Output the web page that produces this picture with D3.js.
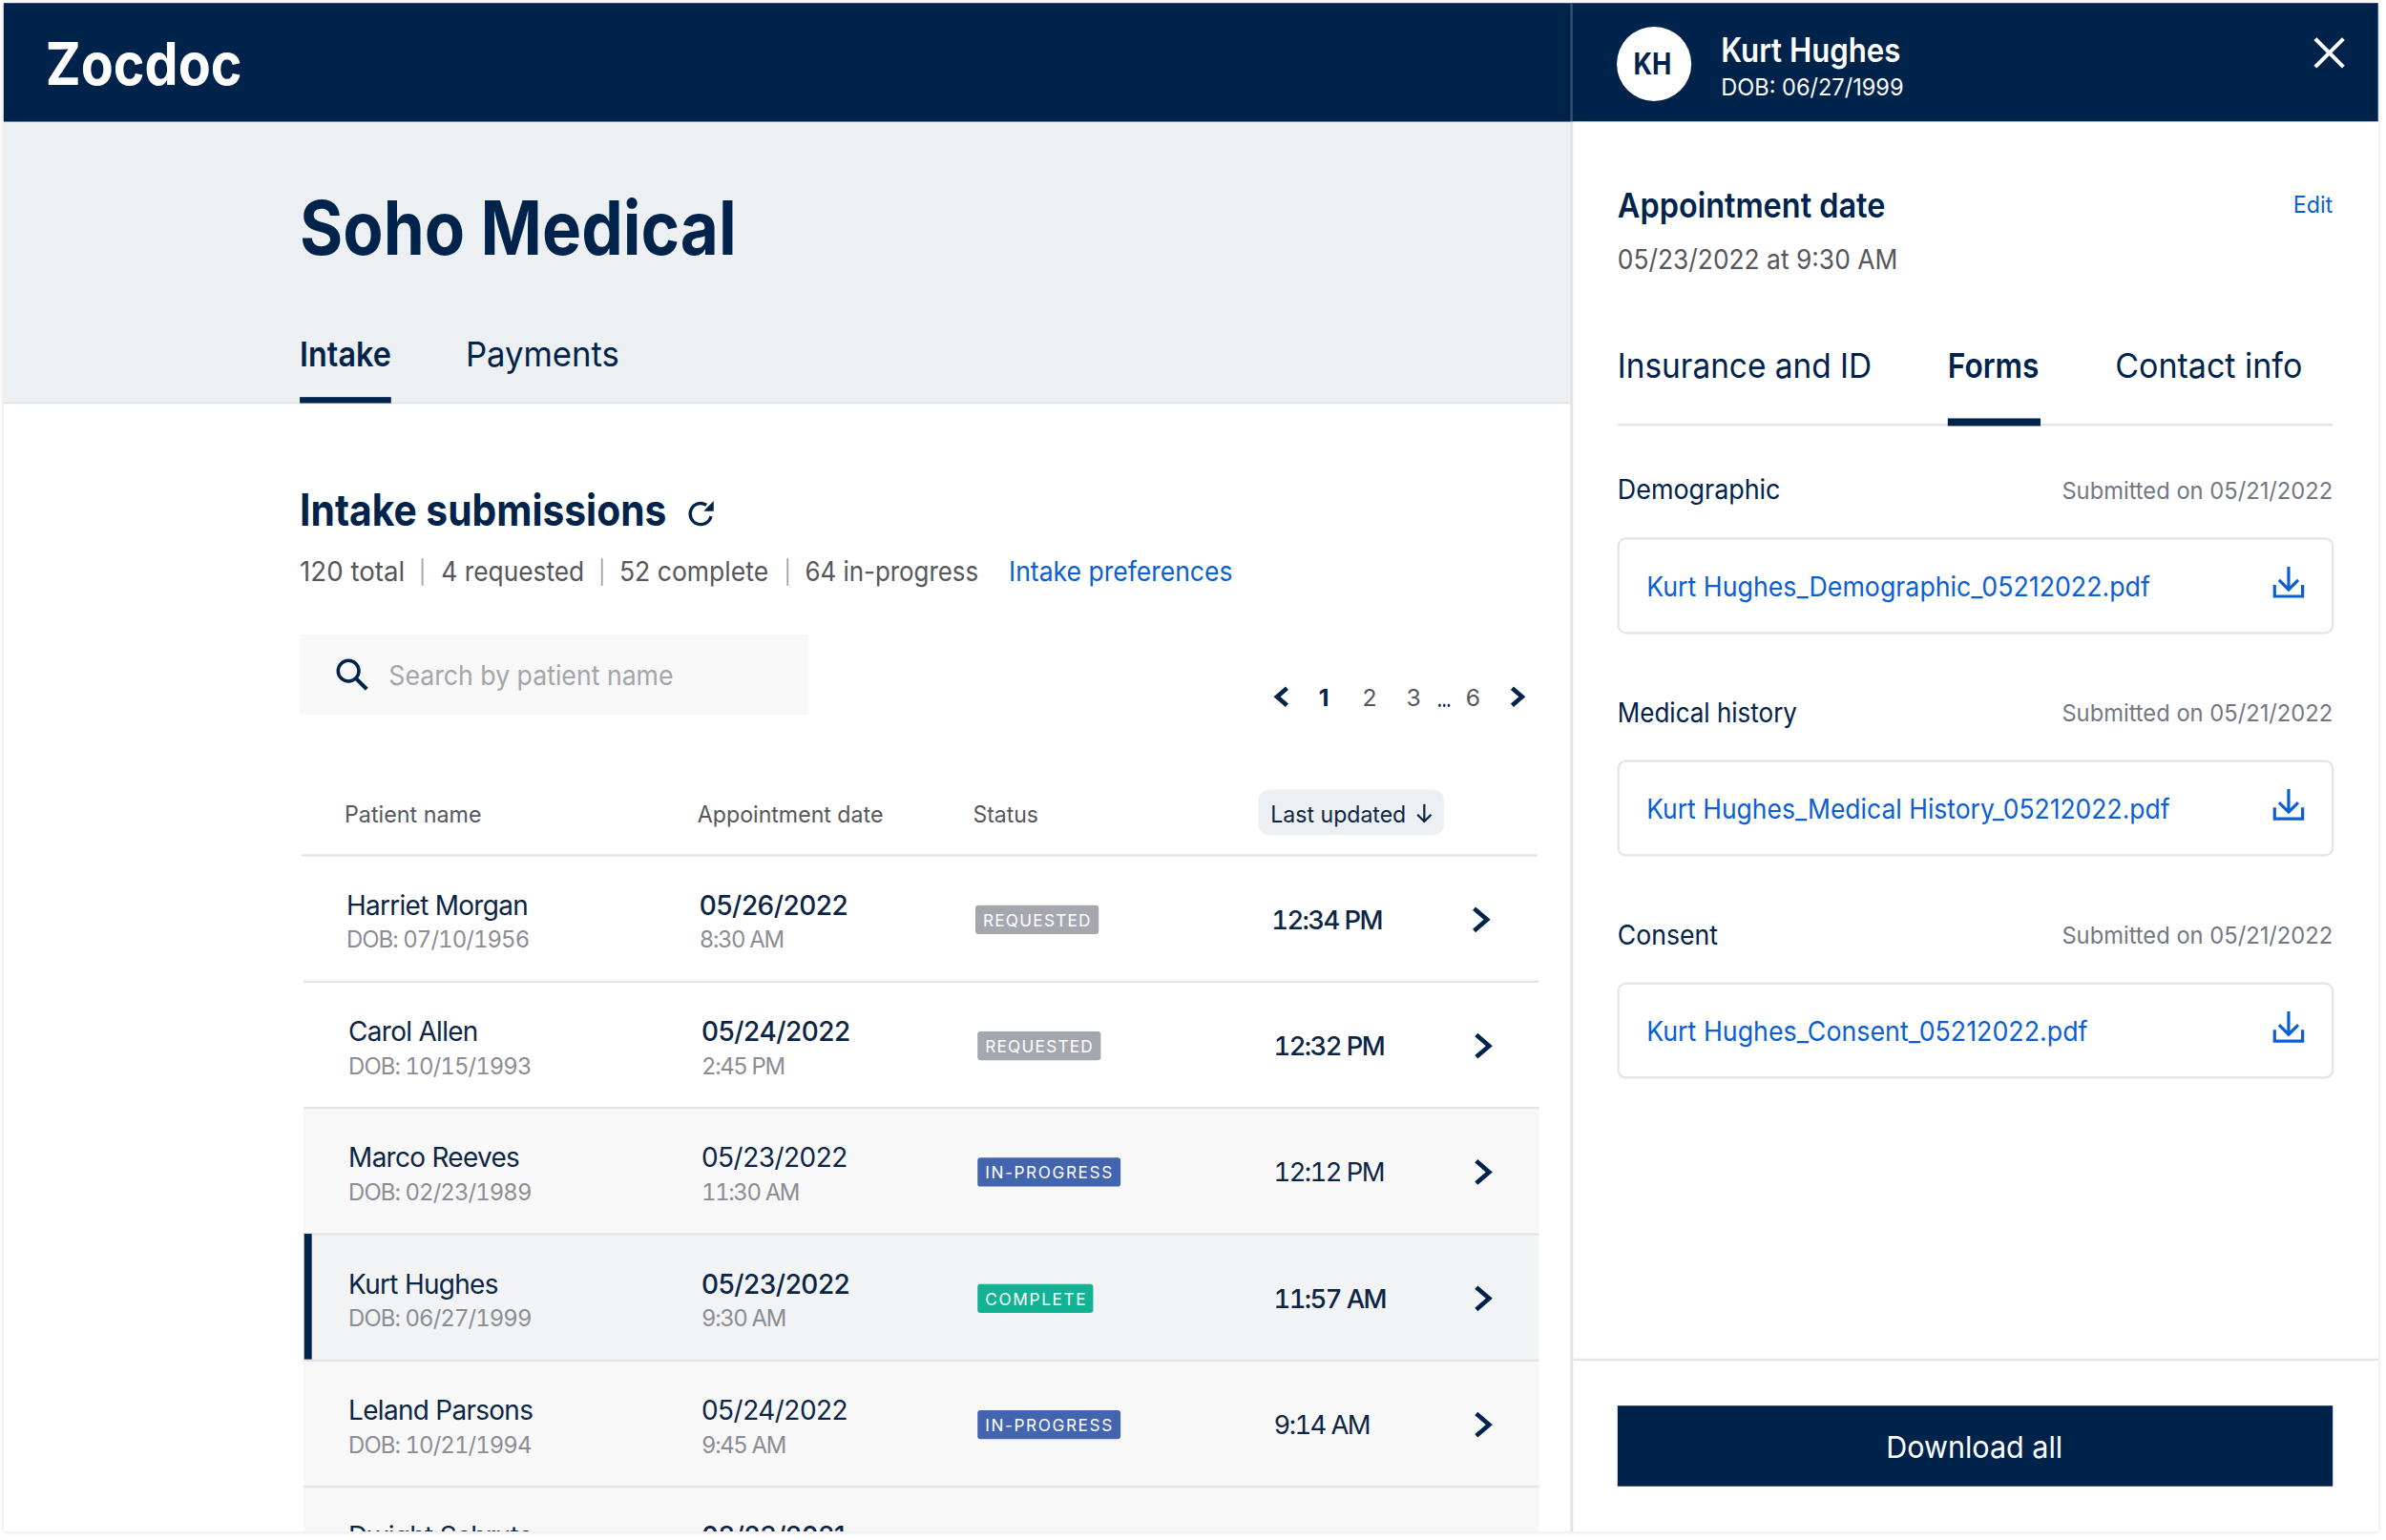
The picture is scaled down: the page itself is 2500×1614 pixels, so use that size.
<!DOCTYPE html>
<html>
<head>
<meta charset="utf-8">
<script src="https://cdn.jsdelivr.net/npm/d3@7"></script>
<style>
  html, body { margin: 0; padding: 0; background: #fff; }
  svg { display: block; }
  text { font-family: "Inter", "Noto Sans", sans-serif; }
</style>
</head>
<body>
<script>
// table data
var patients = ["Harriet Morgan", "Carol Allen", "Marco Reeves", "Kurt Hughes", "Leland Parsons", "Dwight Schrute"];
var dobs = ["07/10/1956", "10/15/1993", "02/23/1989", "06/27/1999", "10/21/1994", "01/20/1966"];
var apptDates = ["05/26/2022", "05/24/2022", "05/23/2022", "05/23/2022", "05/24/2022", "08/23/2021"];
var apptTimes = ["8:30 AM", "2:45 PM", "11:30 AM", "9:30 AM", "9:45 AM", "10:00 AM"];
var statuses = ["REQUESTED", "REQUESTED", "IN-PROGRESS", "COMPLETE", "IN-PROGRESS", "COMPLETE"];
var updated = ["12:34 PM", "12:32 PM", "12:12 PM", "11:57 AM", "9:14 AM", "9:01 AM"];
var columns = ["Patient name", "Appointment date", "Status"];
var stats = ["120 total", "4 requested", "52 complete", "64 in-progress"];
var pages = ["1", "2", "3", "...", "6"];
var formTitles = ["Demographic", "Medical history", "Consent"];
var formFiles = ["Kurt Hughes_Demographic_05212022.pdf", "Kurt Hughes_Medical History_05212022.pdf", "Kurt Hughes_Consent_05212022.pdf"];
var formDates = ["05/21/2022", "05/21/2022", "05/21/2022"];

var navy = "#00234b", ink = "#0b2545", blue = "#0b5fd3", gray = "#55575c", muted = "#8b8d94", line = "#e3e4e6";
var statusNames = ["REQUESTED", "IN-PROGRESS", "COMPLETE"];
var badgeColor = d3.scaleOrdinal().domain(statusNames).range(["#a5a7ae", "#4364af", "#12b294"]);
var badgeWidth = d3.scaleOrdinal().domain(statusNames).range([81, 94, 76]);
var badgeSpacing = d3.scaleOrdinal().domain(statusNames).range([0.78, 1.0, 1.05]);

var svg = d3.select("body").append("svg")
  .attr("width", 2500).attr("height", 1614)
  .attr("viewBox", "0 0 1568 1012.3");

function label(g, str, x, y, size, color, weight, w, anchor){
  var t = g.append("text").attr("x", x).attr("y", y)
    .attr("dy", "0.36em")
    .attr("font-size", size).attr("fill", color)
    .attr("font-weight", weight || 400)
    .attr("text-anchor", anchor || "start")
    .text(str);
  if (w) t.attr("textLength", w).attr("lengthAdjust", "spacingAndGlyphs");
  return t;
}
function chevron(g, x, y, dir, size){
  g.append("path")
    .attr("d", "M" + (x - dir * size * 0.58) + "," + (y - size) + "L" + (x + dir * size * 0.58) + "," + y + "L" + (x - dir * size * 0.58) + "," + (y + size))
    .attr("fill", "none").attr("stroke", navy).attr("stroke-width", 2.9);
}
function downloadIcon(g, x, y){
  g.append("path")
    .attr("d", "M" + x + "," + (y - 11.5) + "V" + (y + 3.6) + "M" + (x - 6.3) + "," + (y - 2.7) + "L" + x + "," + (y + 3.6) + "L" + (x + 6.3) + "," + (y - 2.7)
      + "M" + (x - 9.2) + "," + (y + 0.5) + "V" + (y + 8) + "H" + (x + 9.2) + "V" + (y + 0.5))
    .attr("fill", "none").attr("stroke", blue).attr("stroke-width", 2);
}

// page frame
var frame = svg.append("g");
frame.append("rect").attr("x", 2.4).attr("y", 2).attr("width", 1560.4).attr("height", 1004.7).attr("fill", "#fff")
  .style("filter", "drop-shadow(0 0 1.6px rgba(0,0,0,0.16))");
frame.append("rect").attr("x", 2.4).attr("y", 80).attr("width", 1030).attr("height", 185).attr("fill", "#edf0f3");
frame.append("rect").attr("x", 2.4).attr("y", 264.5).attr("width", 1030).attr("height", 1).attr("fill", "#dfe1e4");
frame.append("rect").attr("x", 2.4).attr("y", 2).attr("width", 1560.4).attr("height", 78).attr("fill", navy);
label(frame, "Zocdoc", 30, 42, 39, "#fff", 700, 129);

// left column heading
var head = svg.append("g");
label(head, "Soho Medical", 197, 150, 49, navy, 700, 287);
label(head, "Intake", 197, 233, 22.5, navy, 600, 60);
label(head, "Payments", 306, 233, 22.5, navy, 400, 101);
head.append("rect").attr("x", 197).attr("y", 261).attr("width", 60).attr("height", 4).attr("fill", navy);
label(head, "Intake submissions", 197, 335, 29, navy, 700, 241);
head.append("path").attr("d", d3.arc()({innerRadius: 5.9, outerRadius: 8, startAngle: 1.8, endAngle: 6.85}))
  .attr("transform", "translate(460.5,337.8)").attr("fill", navy);
head.append("path").attr("d", "M469,329.3L469,336L462.4,336Z").attr("fill", navy);

// stats line
var statX = [197, 290, 407, 529], statW = [69, 94, 98, 114], sepX = [277, 395, 517];
stats.forEach(function(s, i){ label(head, s, statX[i], 375.5, 18, gray, 400, statW[i]); });
sepX.forEach(function(x){
  head.append("rect").attr("x", x).attr("y", 367).attr("width", 1.2).attr("height", 18).attr("fill", "#a6a8ad");
});
label(head, "Intake preferences", 663, 375.5, 18, blue, 400, 147);

// search box
head.append("rect").attr("x", 197).attr("y", 417).attr("width", 334.5).attr("height", 53).attr("fill", "#f8f8f9");
head.append("circle").attr("cx", 229).attr("cy", 441).attr("r", 6.8).attr("fill", "none").attr("stroke", navy).attr("stroke-width", 2.2);
head.append("line").attr("x1", 234).attr("y1", 446).attr("x2", 241).attr("y2", 453).attr("stroke", navy).attr("stroke-width", 2.6);
label(head, "Search by patient name", 255.5, 444, 18, "#a3a5aa", 400, 187);

// pagination
var pageX = d3.scaleOrdinal().domain(pages).range([870, 900, 929, 949, 968]);
chevron(head, 842.5, 458, -1, 5.6);
chevron(head, 997, 458, 1, 5.6);
pages.forEach(function(p){
  var dots = p === "...";
  label(head, p, pageX(p), dots ? 460.3 : 458.5, dots ? 13 : 15.5, p === "1" || dots ? navy : gray, p === "1" || dots ? 700 : 400, dots ? 9 : null, "middle");
});

// table header
var colX = d3.scaleOrdinal().domain(columns).range([226.4, 458.4, 639.4]);
columns.forEach(function(c, i){
  label(head, c, colX(c), 535, 15, gray, 400, [90, 122, 43][i]);
});
head.append("rect").attr("x", 827).attr("y", 519).attr("width", 122).attr("height", 30).attr("rx", 7).attr("fill", "#edf0f3");
label(head, "Last updated", 835, 535, 15, ink, 400, 89);
head.append("path").attr("d", "M936,528.5V540M931.5,535.5L936,540L940.5,535.5")
  .attr("fill", "none").attr("stroke", ink).attr("stroke-width", 1.4);

// table rows
var rowY = d3.scaleLinear().domain([0, patients.length]).range([562, 1060]);
var clip = svg.append("clipPath").attr("id", "tableclip");
clip.append("rect").attr("x", 0).attr("y", 0).attr("width", 1032).attr("height", 1006.7);
var table = svg.append("g").attr("clip-path", "url(#tableclip)");
var rowFill = ["#fff", "#fff", "#f8f8f9", "#f2f3f5", "#f8f8f9", "#f8f8f9"];

var rows = table.selectAll("g.row").data(patients).enter().append("g").attr("class", "row")
  .attr("transform", function(d, i){ return "translate(" + (i === 0 ? 0 : 1.4) + "," + rowY(i) + ")"; });

rows.each(function(d, i){
  var g = d3.select(this);
  var h = rowY(1) - rowY(0);
  var strong = statuses[i] === "REQUESTED" || statuses[i] === "COMPLETE";
  g.append("rect").attr("x", 198).attr("y", 0).attr("width", 812).attr("height", h).attr("fill", rowFill[i]);
  g.append("rect").attr("x", 198).attr("y", -0.5).attr("width", 812).attr("height", 1.5).attr("fill", line);
  if (d === "Kurt Hughes") g.append("rect").attr("x", 198.5).attr("y", 0).attr("width", 5).attr("height", h).attr("fill", navy);
  label(g, d, 227.6, 33, 17.5, ink, 400).attr("letter-spacing", -0.42);
  label(g, "DOB: " + dobs[i], 227.6, 55.6, 15, muted, 400).attr("letter-spacing", -0.58).style("font-variant-numeric", "tabular-nums");
  label(g, apptDates[i], 459.6, 33, 17.5, ink, strong ? 500 : 400).attr("letter-spacing", -0.3);
  label(g, apptTimes[i], 459.6, 55.6, 15, muted, 400).attr("letter-spacing", -0.85).style("font-variant-numeric", "tabular-nums");
  g.append("rect").attr("x", 641).attr("y", 33).attr("width", badgeWidth(statuses[i])).attr("height", 19).attr("rx", 2).attr("fill", badgeColor(statuses[i]));
  label(g, statuses[i], 646, 43, 10.8, "#fff", 400).attr("letter-spacing", badgeSpacing(statuses[i]));
  label(g, updated[i], 835.6, 42.5, 17.2, ink, strong ? 500 : 400).attr("letter-spacing", -1.0).style("font-variant-numeric", "tabular-nums");
  chevron(g, 973, 42.5, 1, 7.3);
});

// right panel
var panel = svg.append("g");
panel.append("rect").attr("x", 1032).attr("y", 2).attr("width", 1.5).attr("height", 78).attr("fill", "#3a5272");
panel.append("rect").attr("x", 1032).attr("y", 80).attr("width", 2).attr("height", 926.7).attr("fill", "#e2e3e5");
panel.append("rect").attr("x", 1034).attr("y", 80).attr("width", 528.8).attr("height", 926.7).attr("fill", "#fff");
panel.append("circle").attr("cx", 1087).attr("cy", 42).attr("r", 24.5).attr("fill", "#fff");
label(panel, "KH", 1086, 42, 20, navy, 700, 25, "middle");
label(panel, "Kurt Hughes", 1131, 33, 22, "#fff", 600, 118);
label(panel, "DOB: 06/27/1999", 1131, 57, 15.5, "#fff", 400, 120);
panel.append("path").attr("d", "M1521.5,25.5L1540,44M1540,25.5L1521.5,44").attr("stroke", "#fff").attr("stroke-width", 2.6);
label(panel, "Appointment date", 1063, 135, 22.5, navy, 600, 176);
label(panel, "Edit", 1533, 134.5, 15, blue, 400, 26, "end");
label(panel, "05/23/2022 at 9:30 AM", 1063, 170.5, 18, gray, 400, 184);
label(panel, "Insurance and ID", 1063, 240, 22.5, navy, 400, 167);
label(panel, "Forms", 1280, 240, 22.5, navy, 600, 60);
label(panel, "Contact info", 1390, 240, 22.5, navy, 400, 123);
panel.append("rect").attr("x", 1063).attr("y", 278.5).attr("width", 470).attr("height", 1.5).attr("fill", line);
panel.append("rect").attr("x", 1280).attr("y", 275).attr("width", 61).attr("height", 5).attr("fill", navy);

// form list
var formY = d3.scaleLinear().domain([0, 1]).range([322, 468.2]);
var titleW = [107, 118, 66], fileW = [331, 344, 290];
formTitles.forEach(function(t, i){
  var y = formY(i);
  label(panel, t, 1063, y, 17.5, navy, 400, titleW[i]);
  label(panel, "Submitted on " + formDates[i], 1533, y + 0.5, 15.5, "#727784", 400, 178, "end");
  panel.append("rect").attr("x", 1063.5).attr("y", y + 32).attr("width", 469.5).attr("height", 62).attr("rx", 5)
    .attr("fill", "#fff").attr("stroke", line).attr("stroke-width", 1.4);
  label(panel, formFiles[i], 1082, y + 63.5, 18, blue, 400, fileW[i]);
  downloadIcon(panel, 1504, y + 62);
});

// footer
panel.append("rect").attr("x", 1034).attr("y", 893).attr("width", 528.8).attr("height", 1.5).attr("fill", line);
panel.append("rect").attr("x", 1063).attr("y", 924).attr("width", 470).attr("height", 53).attr("fill", navy);
label(panel, "Download all", 1297.5, 951, 20, "#fff", 400, 116, "middle");
</script>
</body>
</html>
